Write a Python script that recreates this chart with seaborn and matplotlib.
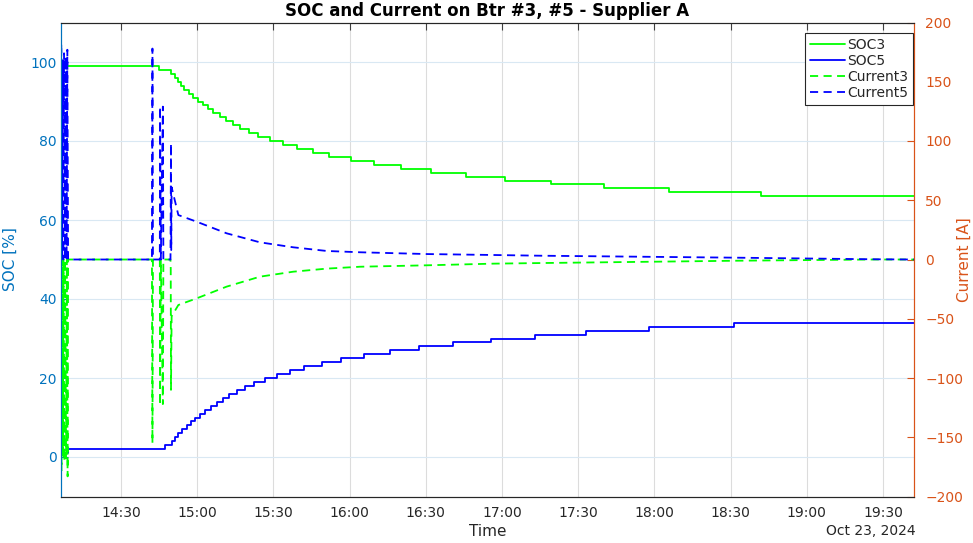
import matplotlib
matplotlib.use("Agg")
import matplotlib.pyplot as plt
import matplotlib.dates as mdates
from matplotlib.lines import Line2D
import pandas as pd
import seaborn as sns

# ---------------- data ----------------
DAY = "2024-10-23 "
t_start = "14:06:24"
t_end = "19:42:12"

soc3_times = [t_start, "14:45:06", "14:49:54", "14:51:18", "14:52:18", "14:53:30", "14:54:54",
              "14:56:54", "14:58:30", "15:00:24", "15:02:12", "15:04:24", "15:06:18", "15:09:00",
              "15:11:18", "15:14:12", "15:16:54", "15:20:24", "15:24:06", "15:28:42", "15:33:54",
              "15:39:12", "15:45:30", "15:52:00", "16:00:24", "16:09:42", "16:20:24", "16:32:12",
              "16:45:48", "17:01:18", "17:19:18", "17:40:12", "18:05:54", "18:41:48", t_end]
soc3_vals = [99, 98, 97, 96, 95, 94, 93, 92, 91, 90, 89, 88, 87, 86, 85, 84, 83, 82, 81, 80, 79,
             78, 77, 76, 75, 74, 73, 72, 71, 70, 69, 68, 67, 66, 66]

soc5_times = [t_start, "14:09:12", "14:47:24", "14:50:06", "14:51:06", "14:52:36", "14:53:54",
              "14:55:54", "14:57:24", "14:59:06", "15:01:06", "15:03:06", "15:05:18", "15:07:42",
              "15:10:00", "15:12:36", "15:15:30", "15:18:48", "15:22:30", "15:26:42", "15:31:18",
              "15:36:30", "15:42:00", "15:49:00", "15:56:36", "16:05:42", "16:15:54", "16:27:24",
              "16:40:36", "16:55:36", "17:12:54", "17:33:06", "17:57:54", "18:31:18", t_end]
soc5_vals = [1, 2, 3, 4, 5, 6, 7, 8, 9, 10, 11, 12, 13, 14, 15, 16, 17, 18, 19, 20, 21, 22, 23,
             24, 25, 26, 27, 28, 29, 30, 31, 32, 33, 34, 34]

cur5_times = [t_start, "14:06:30", "14:06:42", "14:07:00", "14:07:18", "14:07:36", "14:07:54",
              "14:08:18", "14:08:36", "14:08:54", "14:09:12", "14:42:12", "14:42:24", "14:42:36",
              "14:45:18", "14:45:24", "14:45:42", "14:46:30", "14:46:42",
              "14:49:30", "14:49:42", "14:49:48", "14:49:57", "14:52:36", "14:59:48", "15:11:36",
              "15:24:42", "15:37:48", "15:51:00", "16:04:06", "16:30:24", "16:56:36", "17:15:00",
              "18:33:42", "19:26:06", t_end]
cur5_vals = [0, 182, 0, 168, 0, 174, 0, 171, 0, 177, 0, 0, 178, 0,
             0, 129, 0, 129, 0,
             0, 98, 8, 61, 37.5, 31.9, 22.1, 14.5, 10.3, 7.2, 6.1, 4.6, 3.8, 3.2, 1.5, 0.2, 0]

cur3_times = [t_start, "14:06:36", "14:06:48", "14:07:06", "14:07:24", "14:07:42", "14:08:00",
              "14:08:24", "14:08:42", "14:09:00", "14:09:12", "14:42:12", "14:42:24", "14:42:36",
              "14:45:18", "14:45:24", "14:45:42", "14:46:30", "14:46:42",
              "14:49:30", "14:49:36", "14:49:42", "14:49:57", "14:52:36", "14:59:48", "15:11:36",
              "15:24:42", "15:37:48", "15:51:00", "16:04:06", "16:30:24", "16:56:36", "17:15:00",
              "18:33:42", "19:26:06", t_end]
cur3_vals = [0, -178, 0, -165, 0, -170, 0, -168, 0, -183, 0, 0, -155, 0,
             0, -123, 0, -122, 0,
             0, -8, -110, -48, -38.4, -32.8, -22.9, -14.5, -10.3, -7.7, -6.1, -4.9, -3.5, -3.0,
             -1.0, 0, 0]

x_ticks = ["14:30", "15:00", "15:30", "16:00", "16:30", "17:00", "17:30", "18:00", "18:30",
           "19:00", "19:30"]
soc_ticks = [0, 20, 40, 60, 80, 100]
cur_ticks = [-200, -150, -100, -50, 0, 50, 100, 150, 200]


def to_dt(ts):
    return pd.to_datetime([DAY + t for t in ts])


df_soc3 = pd.DataFrame({"Time": to_dt(soc3_times), "SOC": soc3_vals})
df_soc5 = pd.DataFrame({"Time": to_dt(soc5_times), "SOC": soc5_vals})
df_c3 = pd.DataFrame({"Time": to_dt(cur3_times), "I": cur3_vals})
df_c5 = pd.DataFrame({"Time": to_dt(cur5_times), "I": cur5_vals})

# ---------------- style ----------------
sns.set_style("white")
plt.rcParams["font.family"] = ["DejaVu Sans"]

C_LEFT = "#0072BD"
C_RIGHT = "#D95319"
GREEN = "#00FF00"
BLUE = "#0000FF"
TXT = "#262626"
DASH = (0, (4.5, 3))

fig = plt.figure(figsize=(9.73, 5.43), dpi=100)
ax = fig.add_axes([61 / 973, 46.5 / 543, 853 / 973, 474 / 543])
ax2 = ax.twinx()

lw = 1.3
sns.lineplot(data=df_soc3, x="Time", y="SOC", ax=ax, color=GREEN, lw=lw, drawstyle="steps-post",
             estimator=None, sort=False, legend=False)
sns.lineplot(data=df_soc5, x="Time", y="SOC", ax=ax, color=BLUE, lw=lw, drawstyle="steps-post",
             estimator=None, sort=False, legend=False)
sns.lineplot(data=df_c3, x="Time", y="I", ax=ax2, color=GREEN, lw=lw, estimator=None, sort=False,
             legend=False, dashes=False, linestyle=DASH)
sns.lineplot(data=df_c5, x="Time", y="I", ax=ax2, color=BLUE, lw=lw, estimator=None, sort=False,
             legend=False, dashes=False, linestyle=DASH)

# axes limits
ax.set_xlim(pd.Timestamp(DAY + t_start), pd.Timestamp(DAY + t_end))
ax.set_ylim(-10, 110)
ax2.set_ylim(-200, 200)

# ticks
ax.set_xticks(pd.to_datetime([DAY + t for t in x_ticks]))
ax.xaxis.set_major_formatter(mdates.DateFormatter("%H:%M"))
ax.set_yticks(soc_ticks)
ax2.set_yticks(cur_ticks)

ax.tick_params(axis="x", direction="in", length=5, width=0.8, colors=TXT, labelsize=10,
               pad=7, top=True, labelcolor=TXT)
ax.tick_params(axis="y", direction="in", length=5, width=0.8, colors=C_LEFT, labelsize=10,
               pad=3, right=False)
ax2.tick_params(axis="y", direction="in", length=5, width=0.8, colors=C_RIGHT, labelsize=10,
                pad=8)
ax.xaxis.set_tick_params(which="both", color="#404040")

# grid
ax.grid(True, axis="x", color="#DCDCDC", lw=0.8)
ax.grid(True, axis="y", color="#D9E8F3", lw=0.8)
ax.set_axisbelow(True)
ax2.grid(False)

# spines
for a in (ax, ax2):
    a.spines["top"].set_color("#262626")
    a.spines["bottom"].set_color("#262626")
    a.spines["left"].set_color(C_LEFT)
    a.spines["right"].set_color(C_RIGHT)
    for s in a.spines.values():
        s.set_linewidth(0.8)

# labels
ax.set_xlabel("Time", fontsize=11, color=TXT, labelpad=3)
ax.set_ylabel("SOC [%]", fontsize=11, color=C_LEFT)
ax.yaxis.set_label_coords((18 - 61) / 853, 0.5)
ax2.set_ylabel("Current [A]", fontsize=11, color=C_RIGHT, rotation=90, va="center")
ax2.yaxis.set_label_coords((964 - 61) / 853, 0.5)
ax.set_title("SOC and Current on Btr #3, #5 - Supplier A", fontsize=12, fontweight="bold",
             color="black", pad=5)
fig.text(916 / 973, 1 - 531 / 543, "Oct 23, 2024", ha="right", va="center", fontsize=10,
         color=TXT)

# legend
handles = [
    Line2D([], [], color=GREEN, lw=lw),
    Line2D([], [], color=BLUE, lw=lw),
    Line2D([], [], color=GREEN, lw=lw, linestyle=DASH),
    Line2D([], [], color=BLUE, lw=lw, linestyle=DASH),
]
labels = ["SOC3", "SOC5", "Current3", "Current5"]
leg = ax2.legend(handles, labels, loc="upper right", bbox_to_anchor=(0.999, 0.978),
                 fontsize=10, frameon=True, fancybox=False, framealpha=1, edgecolor="#262626",
                 borderpad=0.35, handlelength=2.5, handletextpad=0.2, labelspacing=0.15,
                 borderaxespad=0.0)
leg.get_frame().set_linewidth(0.8)

fig.savefig("out.png", dpi=100)
